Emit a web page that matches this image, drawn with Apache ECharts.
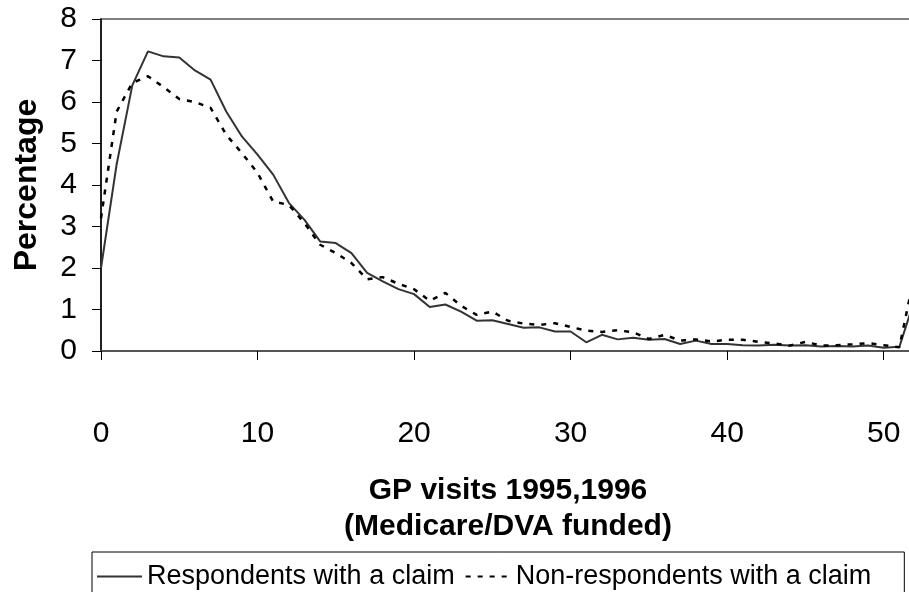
<!DOCTYPE html>
<html>
<head>
<meta charset="utf-8">
<title>GP visits 1995,1996</title>
<script src="https://cdn.jsdelivr.net/npm/echarts@6/dist/echarts.min.js"></script>
<style>
  html, body { margin: 0; padding: 0; background: #fff; }
  #chart { width: 909px; height: 592px; }
</style>
</head>
<body>
<div id="chart"></div>
<script>
// number of GP visits (x values)
const visits = [
  0, 1, 2, 3, 4, 5, 6, 7, 8, 9,
  10, 11, 12, 13, 14, 15, 16, 17, 18, 19,
  20, 21, 22, 23, 24, 25, 26, 27, 28, 29,
  30, 31, 32, 33, 34, 35, 36, 37, 38, 39,
  40, 41, 42, 43, 44, 45, 46, 47, 48, 49,
  50, 51, 52
];

// percentage of people
const respondents = [
  2.0, 4.5, 6.4, 7.22, 7.1, 7.07, 6.76, 6.54, 5.77, 5.17,
  4.73, 4.25, 3.57, 3.16, 2.64, 2.6, 2.36, 1.88, 1.68, 1.49,
  1.37, 1.06, 1.12, 0.95, 0.73, 0.74, 0.65, 0.56, 0.57, 0.47,
  0.47, 0.21, 0.39, 0.28, 0.32, 0.27, 0.29, 0.17, 0.25, 0.17,
  0.17, 0.14, 0.13, 0.15, 0.13, 0.14, 0.11, 0.12, 0.11, 0.13,
  0.08, 0.1, 1.27
];

const nonRespondents = [
  3.2, 5.77, 6.46, 6.62, 6.36, 6.07, 6.0, 5.86, 5.21, 4.77,
  4.29, 3.6, 3.52, 3.08, 2.56, 2.36, 2.12, 1.73, 1.78, 1.62,
  1.49, 1.21, 1.4, 1.09, 0.87, 0.95, 0.73, 0.66, 0.63, 0.67,
  0.58, 0.49, 0.46, 0.5, 0.45, 0.29, 0.39, 0.25, 0.28, 0.23,
  0.27, 0.27, 0.22, 0.18, 0.13, 0.22, 0.13, 0.14, 0.16, 0.19,
  0.14, 0.09, 1.9
];

const seriesNames = ['Respondents with a claim', 'Non-respondents with a claim'];

const font = "'Liberation Sans', Arial, sans-serif";

const chart = echarts.init(document.getElementById('chart'));

const option = {
  animation: false,
  backgroundColor: '#fff',
  textStyle: { fontFamily: font },
  grid: {
    left: 101,
    right: -6,
    top: 19,
    bottom: 241,
    outerBoundsMode: 'none',
    show: true,
    borderColor: '#808080',
    borderWidth: 2,
    backgroundColor: 'transparent'
  },
  xAxis: {
    type: 'value',
    min: 0,
    max: 52,
    interval: 10,
    name: 'GP visits 1995,1996\n(Medicare/DVA funded)',
    nameLocation: 'middle',
    nameGap: 122,
    nameTextStyle: {
      fontFamily: font,
      fontSize: 30,
      fontWeight: 'bold',
      color: '#000',
      lineHeight: 36
    },
    axisLine: { onZero: false, lineStyle: { color: '#555', width: 2 } },
    axisTick: { inside: false, length: 9, lineStyle: { color: '#000', width: 1 } },
    axisLabel: {
      margin: 68,
      fontSize: 30,
      color: '#000',
      fontFamily: font,
      showMaxLabel: false
    },
    splitLine: { show: false }
  },
  yAxis: {
    type: 'value',
    min: 0,
    max: 8,
    interval: 1,
    name: 'Percentage',
    nameLocation: 'middle',
    nameRotate: 90,
    nameGap: 58,
    nameTextStyle: {
      fontFamily: font,
      fontSize: 32,
      fontWeight: 'bold',
      color: '#000'
    },
    axisLine: { show: true, lineStyle: { color: '#000', width: 1.5 } },
    axisTick: { show: true, inside: false, length: 9, lineStyle: { color: '#000', width: 1 } },
    axisLabel: {
      margin: 24,
      fontSize: 30,
      color: '#000',
      fontFamily: font
    },
    splitLine: { show: false }
  },
  legend: {
    data: seriesNames,
    left: 92,
    top: 552,
    itemWidth: 45,
    itemHeight: 10,
    itemGap: 10,
    padding: [11, 33, 30, 4],
    borderColor: '#000',
    borderWidth: 1,
    itemStyle: { color: 'transparent', borderWidth: 0, opacity: 0 },
    textStyle: { fontSize: 27, color: '#000', fontFamily: font }
  },
  series: [
    {
      name: seriesNames[0],
      type: 'line',
      data: visits.map((v, i) => [v, respondents[i]]),
      symbol: 'none',
      lineStyle: { color: '#333', width: 2, type: 'solid' },
      itemStyle: { color: '#333' }
    },
    {
      name: seriesNames[1],
      type: 'line',
      data: visits.map((v, i) => [v, nonRespondents[i]]),
      symbol: 'none',
      lineStyle: { color: '#000', width: 2.5, type: [5, 7] },
      itemStyle: { color: '#000' }
    }
  ]
};

chart.setOption(option);
</script>
</body>
</html>
